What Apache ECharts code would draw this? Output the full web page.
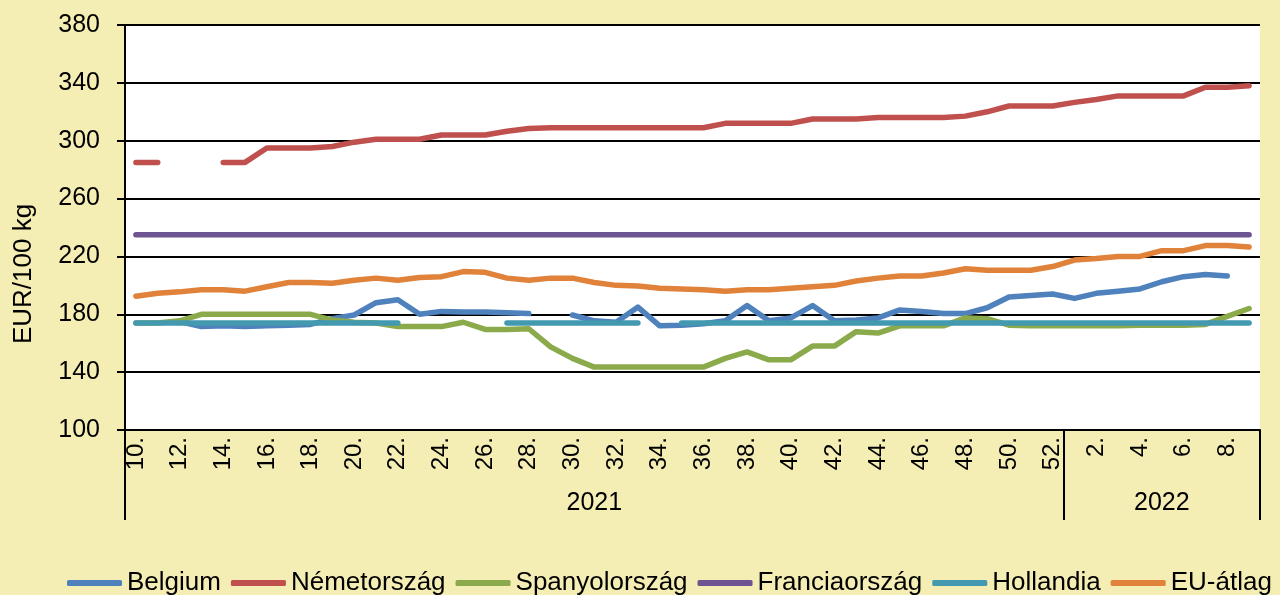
<!DOCTYPE html>
<html>
<head>
<meta charset="utf-8">
<script src="https://cdn.jsdelivr.net/npm/echarts@6/dist/echarts.min.js"></script>
<style>
html,body{margin:0;padding:0;background:#F5EEB4;}
#chart{width:1280px;height:595px;}
</style>
</head>
<body>
<div id="chart"></div>
<script>
var weeks2021 = [10,11,12,13,14,15,16,17,18,19,20,21,22,23,24,25,26,27,28,29,30,31,32,33,34,35,36,37,38,39,40,41,42,43,44,45,46,47,48,49,50,51,52];
var weeks2022 = [1,2,3,4,5,6,7,8,9];
var years = ['2021', '2022'];
var yTicks = [100, 140, 180, 220, 260, 300, 340, 380];

var belgium = [null,null,175,171.5,172,171.5,172,172.5,173,177,179.5,188,190,180,182,181.5,181.5,181,180.5,null,179.5,175.5,174.5,185,172,172.5,173.5,175.5,186,175.5,177.5,186,175.5,176,177.5,183,182,180.5,180.5,184.5,192,193,194,191,194.5,196,197.5,202.5,206,207.5,206.5,null];
var nemetorszag = [285,285,null,null,285,285,295,295,295,296,299,301,301,301,304,304,304,306.5,308.5,309,309,309,309,309,309,309,309,312,312,312,312,315,315,315,316,316,316,316,317,320,324,324,324,326.5,328.5,331,331,331,331,337,337,338];
var spanyolorszag = [174,174,175.5,180,180,180,180,180,180,176,174.5,174,171.5,171.5,171.5,174.5,169.5,169.5,170,157.5,149.5,143.5,143.5,143.5,143.5,143.5,143.5,149.5,154,148.5,148.5,158,158,168,167,172,172,172,177.5,177,172.5,172,172,172,172,172,172.5,172.5,172.5,173,178.5,184];
var franciaorszag = [235,235,235,235,235,235,235,235,235,235,235,235,235,235,235,235,235,235,235,235,235,235,235,235,235,235,235,235,235,235,235,235,235,235,235,235,235,235,235,235,235,235,235,235,235,235,235,235,235,235,235,235];
var hollandia = [174,174,174,174,174,174,174,174,174,174,174,174,174,null,null,null,null,174,174,174,174,174,174,174,null,174,174,174,174,174,174,174,174,174,174,174,174,174,174,174,174,174,174,174,174,174,174,174,174,174,174,174];
var euAtlag = [192.5,194.5,195.5,197,197,196,199,202,202,201.5,203.5,205,203.5,205.5,206,209.5,209,205,203.5,205,205,202,200,199.5,198,197.5,197,196,197,197,198,199,200,203,205,206.5,206.5,208.5,211.5,210.5,210.5,210.5,213,217.5,218.5,220,220,224,224,227.5,227.5,226.5];

var categories = weeks2021.map(function(w){return w + '.';}).concat(weeks2022.map(function(w){return w + '.';}));
var yearStart = [0, weeks2021.length];
var yearMid = [Math.floor((weeks2021.length - 1) / 2), weeks2021.length + Math.floor((weeks2022.length - 1) / 2)];

var FONT = 'Liberation Sans, Arial, sans-serif';
var chart = echarts.init(document.getElementById('chart'));

function mk(name, data, color) {
  return {
    name: name, type: 'line', data: data, showSymbol: false, symbol: 'none',
    connectNulls: false, animation: false,
    lineStyle: {color: color, width: 5.5, cap: 'round', join: 'round'},
    itemStyle: {color: color}
  };
}

chart.setOption({
  backgroundColor: '#F5EEB4',
  animation: false,
  grid: {left: 125, right: 20, top: 25, bottom: 165, show: true, backgroundColor: '#FFFFFF', borderWidth: 0},
  legend: {
    left: 62, top: 565, itemWidth: 55, itemHeight: 6, itemGap: 10, icon: 'roundRect',
    textStyle: {fontFamily: FONT, fontSize: 26, color: '#000'},
    data: ['Belgium','Németország','Spanyolország','Franciaország','Hollandia','EU-átlag']
  },
  xAxis: [{
    type: 'category', data: categories, boundaryGap: true,
    axisLine: {show: true, lineStyle: {color: '#000', width: 2}},
    axisTick: {show: true, length: 90, interval: function(i){ return yearStart.indexOf(i) >= 0; }, lineStyle: {color: '#000', width: 2}},
    axisLabel: {interval: 1, rotate: 90, margin: 7, fontFamily: FONT, fontSize: 24, color: '#000'},
    splitLine: {show: false}
  }, {
    type: 'category', data: categories, boundaryGap: true, position: 'bottom', offset: 60,
    axisLine: {show: false}, axisTick: {show: false}, splitLine: {show: false},
    axisLabel: {
      interval: function(i){ return yearMid.indexOf(i) >= 0; },
      formatter: function(v, i){ return i < weeks2021.length ? years[0] : years[1]; },
      margin: 1, fontFamily: FONT, fontSize: 25, color: '#000'
    }
  }],
  yAxis: {
    type: 'value', min: yTicks[0], max: yTicks[yTicks.length - 1], interval: 40,
    axisLine: {show: true, lineStyle: {color: '#000', width: 2}},
    axisTick: {show: true, length: 8, lineStyle: {color: '#000', width: 2}},
    axisLabel: {margin: 25, fontFamily: FONT, fontSize: 25, color: '#000'},
    splitLine: {show: true, lineStyle: {color: '#000', width: 2}}
  },
  graphic: [{
    type: 'text', x: 24, y: 274, rotation: Math.PI / 2,
    style: {text: 'EUR/100 kg', font: '26px Liberation Sans, Arial, sans-serif', fill: '#000', align: 'center', verticalAlign: 'middle'}
  }],
  series: [
    mk('Belgium', belgium, '#4F81BD'),
    mk('Németország', nemetorszag, '#C0504D'),
    mk('Spanyolország', spanyolorszag, '#8BAA4B'),
    mk('Franciaország', franciaorszag, '#6D5591'),
    mk('Hollandia', hollandia, '#4299B0'),
    mk('EU-átlag', euAtlag, '#E0823A')
  ]
});
</script>
</body>
</html>
